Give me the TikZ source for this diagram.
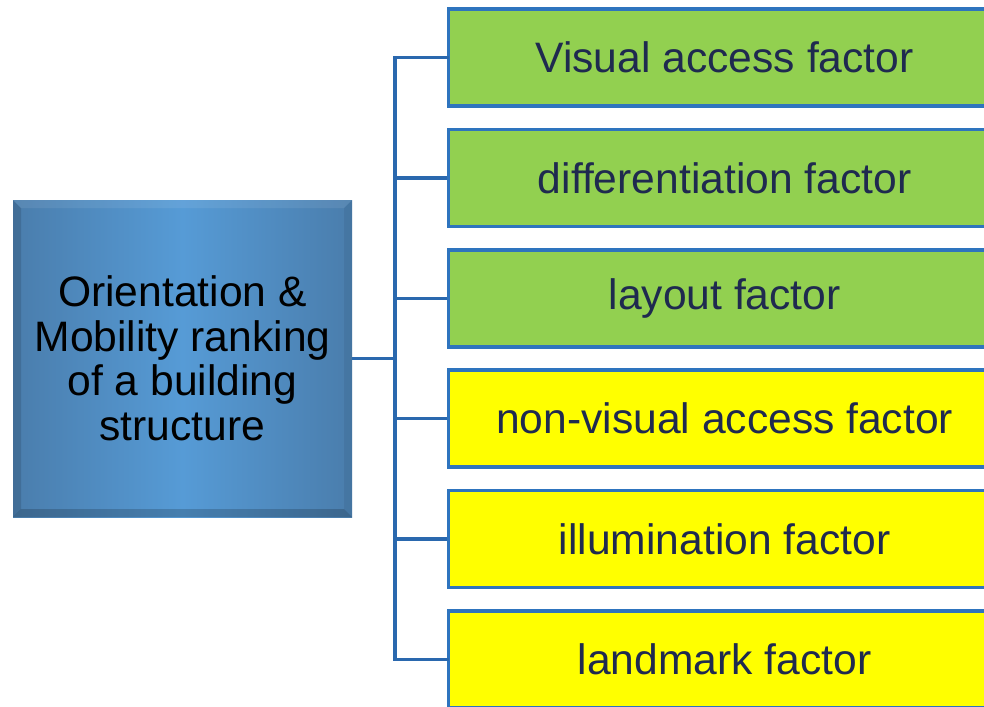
\documentclass[tikz,border=0pt]{standalone}
\usepackage{fontspec}
\setmainfont{Liberation Sans}
\definecolor{linecol}{HTML}{2A68AE}
\definecolor{boxline}{HTML}{2E74BE}
\definecolor{greenfill}{HTML}{92D050}
\definecolor{yellowfill}{HTML}{FFFF00}
\definecolor{txtcol}{HTML}{1F2A4F}
\definecolor{blueedge}{HTML}{4A7DAC}
\definecolor{bluemid}{HTML}{569BD6}
\tikzset{
  factorbox/.style={draw=boxline, line width=3.2pt, anchor=west, minimum width=552pt,
    minimum height=97pt, inner sep=0pt},
  greenbox/.style={factorbox, fill=greenfill},
  yellowbox/.style={factorbox, fill=yellowfill},
  factortext/.style={text=txtcol, font=\fontsize{42.6}{46}\selectfont, inner sep=0pt},
  conn/.style={draw=linecol, line width=3.4pt},
}
\begin{document}
\begin{tikzpicture}[x=1pt,y=-1pt]
\clip (0,0) rectangle (984,706);
\fill[white] (0,0) rectangle (984,706);
% main box
\shade[left color=blueedge, right color=blueedge, middle color=bluemid] (13,200) rectangle (352,517);
% bevel
\fill[black,opacity=0.18] (13,517) -- (352,517) -- (344,509) -- (21,509) -- cycle;
\fill[black,opacity=0.12] (13,200) -- (13,517) -- (21,509) -- (21,208) -- cycle;
\fill[white,opacity=0.08] (13,200) -- (352,200) -- (344,208) -- (21,208) -- cycle;
\fill[black,opacity=0.06] (352,200) -- (352,517) -- (344,509) -- (344,208) -- cycle;
\node[align=center, inner sep=0pt, minimum width=339pt, minimum height=317pt,
  font=\fontsize{42.6}{44.5}\selectfont, text=black] (main) at (182.5,358.5)
  {Orientation \&\\Mobility ranking\\of a building\\structure};
% factor boxes
\node[greenbox] (f1) at (447,57.5) {};
\node[greenbox] (f2) at (447,178) {};
\node[greenbox] (f3) at (447,298.5) {};
\node[yellowbox] (f4) at (447,418.5) {};
\node[yellowbox] (f5) at (447,539) {};
\node[yellowbox] (f6) at (447,659.5) {};
\node[factortext] at (f1.center) {Visual access factor};
\node[factortext] at (f2.center) {differentiation factor};
\node[factortext] at (f3.center) {layout factor};
\node[factortext] at (f4.center) {non-visual access factor};
\node[factortext] at (f5.center) {illumination factor};
\node[factortext] at (f6.center) {landmark factor};
% connectors
\coordinate (bus) at (395,358.5);
\draw[conn] (main.east) -- (bus);
\draw[conn, line cap=rect] (f1.west) -- (f1.west -| bus) -- (f6.west -| bus) -- (f6.west);
\foreach \n in {f2,f3,f4,f5} \draw[conn] (\n.west -| bus) -- (\n.west);
\end{tikzpicture}
\end{document}
